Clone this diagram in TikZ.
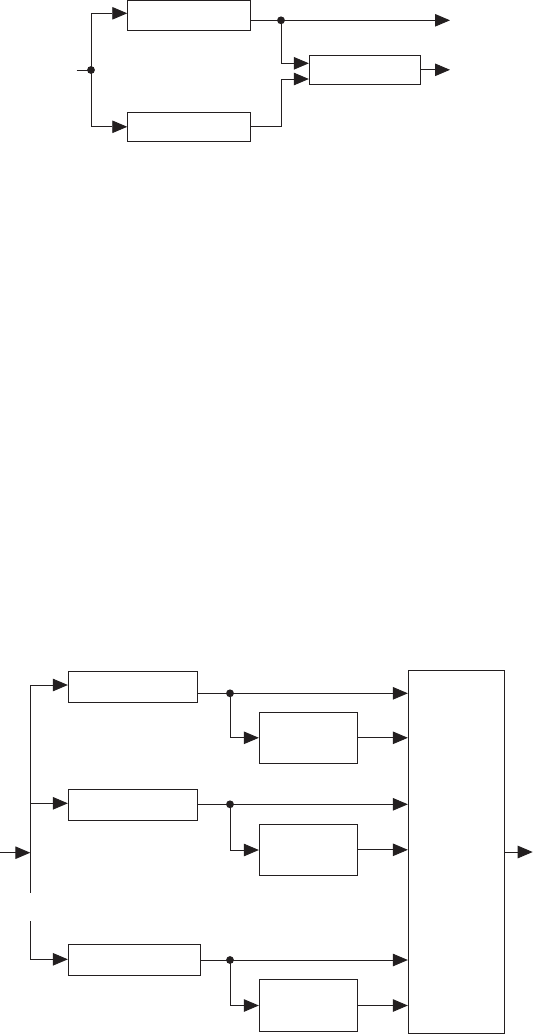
\documentclass[tikz,border=0pt]{standalone}
\usetikzlibrary{arrows.meta}
\definecolor{ink}{HTML}{231F20}
\begin{document}
\begin{tikzpicture}[x=1pt,y=-1pt,
  line width=0.9pt, color=ink,
  blk/.style={draw=ink, line width=0.9pt, inner sep=0pt, fill=white},
  arr/.style={-{Triangle[length=15pt,width=12.5pt]}, draw=ink},
  jdot/.style={fill=ink, draw=none}]
\useasboundingbox (0,0) rectangle (534,1034);
% ---------- top diagram ----------
\node[blk, minimum width=122.6pt, minimum height=30pt] (A1) at (189,15.3) {};
\node[blk, minimum width=122.6pt, minimum height=29pt] (A2) at (189,126.8) {};
\node[blk, minimum width=111pt, minimum height=29pt] (B) at (364.8,69.8) {};
\coordinate (tin) at (76.7,70);
\coordinate (jt) at (91,70);
\coordinate (dt) at (281,20.3);
\coordinate (o1) at (450,20.3);
\coordinate (o2) at (450,69.8);
\draw (tin) -- (jt);
\draw[arr] (jt) |- ([yshift=2pt]A1.west);
\draw[arr] (jt) |- (A2.west);
\draw[arr] (A1.east |- dt) -- (o1);
\draw[arr] (dt) |- ([yshift=6.5pt]B.west);
\draw[arr] (A2.east) -- (A2.east -| dt) |- ([yshift=-9.2pt]B.west);
\draw[arr] (B.east) -- (o2);
\fill[jdot] (jt) circle (3.9pt);
\fill[jdot] (dt) circle (3.9pt);
% ---------- bottom diagram ----------
\node[blk, minimum width=129.4pt, minimum height=30.6pt] (C1) at (133,687) {};
\node[blk, minimum width=129.4pt, minimum height=31pt] (C2) at (133,804.8) {};
\node[blk, minimum width=132pt, minimum height=31pt] (C3) at (134.3,959.8) {};
\node[blk, minimum width=98pt, minimum height=51pt] (D1) at (308.3,737.8) {};
\node[blk, minimum width=98pt, minimum height=51pt] (D2) at (308.3,849.8) {};
\node[blk, minimum width=98pt, minimum height=52.4pt] (D3) at (308.3,1005.5) {};
\node[blk, minimum width=96pt, minimum height=362.7pt] (E) at (456.3,851.7) {};
\coordinate (bt) at (30.3,685);
\coordinate (bm) at (30.3,803.3);
\coordinate (bb1) at (30.3,892.7);
\coordinate (bb2) at (30.3,921);
\coordinate (bbot) at (30.3,959.3);
\coordinate (bin) at (0,852.7);
\coordinate (bj) at (30.3,852.7);
\coordinate (dc1) at (230,693.3);
\coordinate (dc2) at (230,804.3);
\coordinate (dc3) at (230,960);
\coordinate (eo) at (532.7,852);
\draw (bt) -- (bb1);
\draw (bb2) -- (bbot);
\draw[arr] (bin) -- (bj);
\draw[arr] (bt) -- (bt -| C1.west);
\draw[arr] (bm) -- (bm -| C2.west);
\draw[arr] (bbot) -- (bbot -| C3.west);
\draw[arr] (C1.east |- dc1) -- (dc1 -| E.west);
\draw[arr] (dc1) |- (D1.west);
\draw[arr] (D1.east) -- (D1.east -| E.west);
\draw[arr] (C2.east |- dc2) -- (dc2 -| E.west);
\draw[arr] (dc2) |- ([yshift=-0.2pt]D2.west);
\draw[arr] (D2.east) -- (D2.east -| E.west);
\draw[arr] (C3.east |- dc3) -- (dc3 -| E.west);
\draw[arr] (dc3) |- (D3.west);
\draw[arr] (D3.east) -- (D3.east -| E.west);
\draw[arr] (E.east |- eo) -- (eo);
\fill[jdot] (dc1) circle (3.9pt);
\fill[jdot] (dc2) circle (3.9pt);
\fill[jdot] (dc3) circle (3.9pt);
\end{tikzpicture}
\end{document}
